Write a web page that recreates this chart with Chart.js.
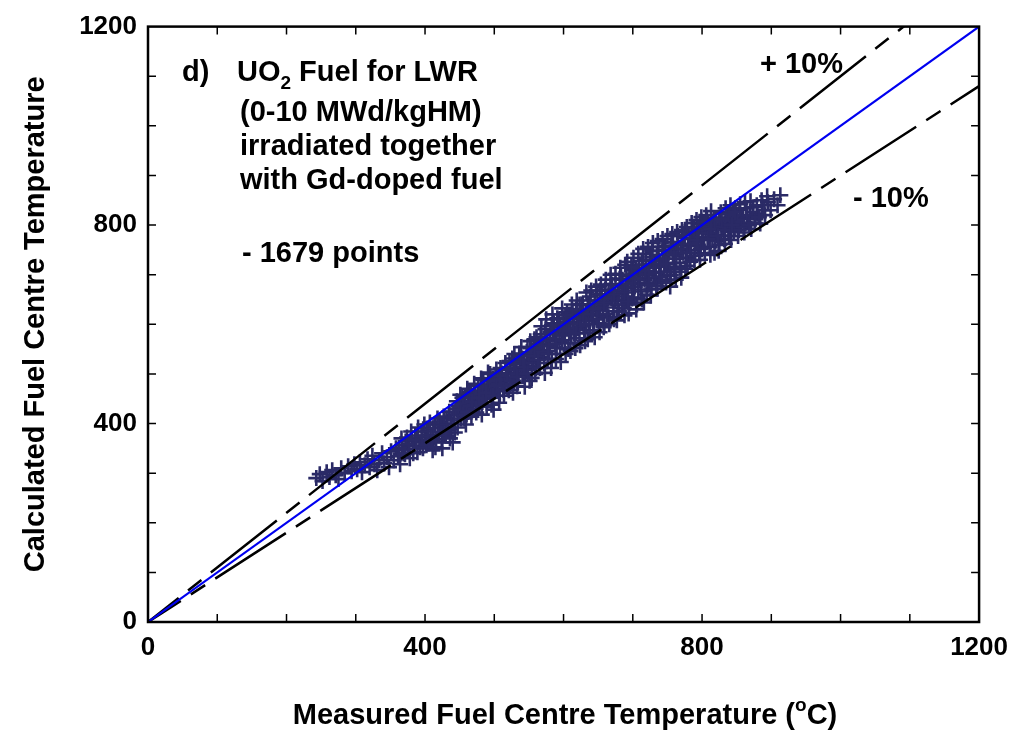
<!DOCTYPE html>
<html>
<head>
<meta charset="utf-8">
<script src="https://cdn.jsdelivr.net/npm/chart.js@4.4.1/dist/chart.umd.min.js"></script>
<style>
  html, body { margin: 0; padding: 0; background: #fff; }
  #wrap { width: 1018px; height: 734px; }
</style>
</head>
<body>
<div id="wrap"><canvas id="fuelChart" width="1018" height="734"></canvas></div>
<script>
// axis ranges and labelled ticks
const axisMin = 0;
const axisMax = 1200;
const minorStep = 100;
const tickLabels = [0, 400, 800, 1200];

// reference lines: calculated = factor * measured
const perfectFactor = 1.0;
const upperFactor = 1.1;
const lowerFactor = 0.9;

// measured vs calculated fuel centre temperature (deg C), UO2, 0-10 MWd/kgHM
const fuelPoints = [
  [243,290],[248,298],[252,284],[258,302],[262,292],[266,306],[271,296],[275,288],[279,310],[284,300],[289,314],[294,304],
  [298,318],[302,308],[306,322],[309,302],[313,316],[317,328],[320,312],[324,335],[327,318],[331,306],[334,326],[338,340],
  [341,320],[345,332],[348,312],[351,344],[355,326],[358,350],[361,334],[364,318],
  [367,356],[369,340],[372,364],[375,348],[378,330],[381,370],[384,354],[386,376],[389,342],[392,362],[395,384],[397,350],
  [400,372],[403,390],[405,360],[408,378],[411,346],[414,398],[416,368],[419,384],[421,404],[424,362],[426,392],[428,376],
  [431,410],[433,386],[436,370],[438,400],[441,418],[443,382],
  [446,445],[448,419],[451,458],[453,432],[456,415],[458,453],[461,470],[463,438],[466,463],[468,427],[471,480],[473,450],
  [476,466],[478,439],[481,491],[483,460],[486,478],[488,449],[491,503],[493,471],[496,438],[498,490],[501,465],[503,509],
  [506,482],[508,456],[511,501],[513,475],[516,522],[518,490],[521,467],[523,513],[526,531],[528,486],[531,502],[533,475],
  [536,541],[538,520],[541,496],[543,529],[546,511],[548,554],[551,486],[553,537],[556,521],
  [558,570],[560,512],[562,552],[565,534],[567,580],[569,558],[572,522],[574,590],[576,566],[579,546],[581,584],[583,530],
  [586,602],[588,570],[590,552],[593,596],[595,540],[597,578],[600,612],[602,562],[604,592],[607,550],[609,620],[611,580],
  [614,604],[616,562],[618,630],[621,592],[623,572],[625,614],[628,640],[630,588],[632,624],[635,570],[637,606],[639,648],
  [642,618],[644,588],[646,636],[649,660],[651,602],[653,628],[656,646],[658,594],[660,670],[663,634],[665,614],[667,656],
  [670,680],[672,626],[674,646],[677,608],[679,668],[681,692],[684,640],
  [686,656],[688,618],[691,698],[693,674],[695,642],[698,682],[700,710],[702,654],[705,630],[707,692],[709,720],[712,666],
  [714,704],[716,644],[719,730],[721,684],[723,714],[726,658],[728,736],[730,694],[733,720],[735,672],[737,748],[740,706],
  [742,686],[744,732],[747,758],[749,698],[751,724],[754,676],[756,765],[758,739],[761,711],[763,751],[765,778],[768,724],
  [770,694],[772,760],[775,786],[777,734],[779,718],[782,773],[784,749],[786,795],[789,729],[791,765],[793,783],[796,743],
  [798,802],[800,770],[803,754],[805,790],[807,812],[810,776],[812,740],
  [814,785],[817,808],[819,768],[821,794],[824,748],[826,815],[828,779],[831,800],[833,762],[835,822],[838,787],[840,806],
  [842,770],[845,827],[847,793],[849,812],[852,778],[854,831],[856,800],[859,817],[861,785],[864,834],[866,805],[869,818],
  [871,792],[874,836],[877,812],[880,823],[884,803],[887,840],[891,820],[895,846],[899,830],[904,852],[909,840],[913,860],
  [362,346],[366,370],[371,338],[374,372],[377,358],[380,384],[383,340],[387,366],[390,392],[393,352],[396,374],[399,398],
  [402,356],[404,384],[407,402],[410,364],[412,390],[415,352],[418,410],[420,376],[423,396],[425,350],[427,414],[430,380],
  [432,398],[435,424],[437,388],[440,362],[442,406],[444,430],
  [447,392],[449,436],[452,410],[454,452],[457,428],[459,398],[462,446],[464,462],[467,414],[469,440],[472,458],[474,422],
  [477,476],[479,444],[482,418],[484,488],[487,456],[489,434],[492,478],[494,500],[497,452],[499,428],[502,494],[504,470],
  [507,442],[509,512],[512,486],[514,456],[517,500],[519,470],[522,526],[524,492],[527,462],[529,540],[532,508],[534,482],
  [537,526],[539,554],[542,500],[544,474],[547,544],[549,516],[552,566],[554,492],[557,548],
  [559,500],[561,574],[563,540],[566,512],[568,596],[570,548],[573,502],[575,610],[577,530],[580,566],[582,512],[584,620],
  [587,586],[589,530],[591,612],[594,566],[596,524],[598,632],[601,590],[603,540],[605,624],[608,600],[610,546],[612,640],
  [615,582],[617,552],[619,648],[622,610],[624,558],[626,640],[629,596],[631,566],[633,664],[636,628],[638,582],[640,668],
  [643,600],[645,574],[647,676],[650,640],[652,584],[654,680],[657,616],[659,598],[661,690],[664,652],[666,600],[668,700],
  [671,662],[673,610],[675,702],[678,650],[680,626],[682,714],[685,668],[687,632],[689,720],
  [690,648],[692,726],[694,622],[697,700],[699,652],[701,734],[703,676],[706,640],[708,742],[710,700],[713,650],[715,752],
  [717,690],[720,660],[722,756],[724,700],[727,670],[729,764],[731,716],[734,678],[736,768],[738,728],[741,690],[743,772],
  [745,716],[748,684],[750,778],[752,744],[755,700],[757,782],[759,716],[762,690],[764,786],[766,752],[769,706],[771,790],
  [773,744],[776,712],[778,796],[780,760],[783,726],[785,804],[787,772],[790,738],[792,810],[794,760],[797,730],[799,816],
  [801,786],[804,742],[806,820],[808,796],[811,756],[813,828],[815,774],
  [818,744],[820,814],[822,780],[825,760],[827,826],[829,796],[832,772],[834,834],[836,808],[839,778],[841,840],[843,816],
  [846,786],[848,834],[850,806],[853,790],[855,842],[857,812],[860,796],[862,846],[865,820],[868,800],[870,848],[873,826],
  [876,804],[879,840],[882,816],[886,850],[890,830],[894,858],
  [452,428],[455,440],[460,418],[465,436],[470,452],[475,440],[480,460],[485,450],[490,470],[495,462],[500,480],[505,466],
  [510,488],[515,478],[520,500],[525,486],[530,512],[535,500],[540,524],[545,508],[550,536],[555,522],[560,548],[565,560],
  [570,544],[575,572],[580,556],[585,584],[590,570],[595,594],[600,578],[605,604],[610,592],[615,614],[620,600],[625,624],
  [630,610],[635,640],[640,620],[645,648],[650,632],[655,660],[660,640],[665,668],[670,652],[675,680],[680,662],[685,690],
  [690,676],[695,700],[700,684],[705,712],[710,690],[715,720],[720,702],[725,730],[730,714],[735,740],[740,722],[745,750],
  [750,732],[755,758],[760,740],[765,766],[770,752],[775,774],[780,758],[785,782],[790,766],[795,790],[800,776],[805,796],
  [810,784],[815,802],[820,790],[825,808],[830,796],[835,814],[840,802],[845,820],[850,810],
  [457,410],[462,424],[468,444],[473,430],[478,452],[483,474],[488,462],[493,486],[498,456],[503,476],[508,496],[513,468],
  [518,508],[523,476],[528,520],[533,494],[538,536],[543,514],[548,500],[553,552],[558,536],[563,528],[568,566],[573,580],
  [578,540],[583,598],[588,560],[593,610],[598,568],[603,618],[608,586],[613,628],[618,582],[623,640],[628,620],[633,600],
  [638,656],[643,630],[648,610],[653,668],[658,644],[663,620],[668,680],[673,660],[678,640],[683,700],[688,664],[693,646],
  [698,716],[703,694],[708,670],[713,728],[718,708],[723,680],[728,748],[733,704],[738,696],[743,756],[748,722],[753,706],
  [758,766],[763,732],[768,714],[773,780],[778,744],[783,762],[788,794],[793,770],[798,752],[803,806],[808,772],[813,792],
  [818,810],[823,778],[828,812],[833,790],[838,822],[843,800],[848,826]
];

function refLine(factor) {
  return [{ x: axisMin, y: axisMin * factor }, { x: axisMax, y: axisMax * factor }];
}

const FONT = 'Arial, "Liberation Sans", sans-serif';
const bold = (size) => ({ family: FONT, size: size, weight: 'bold' });

// frame, inward minor ticks, axis titles and in-plot notes
const decorPlugin = {
  id: 'decor',
  afterDraw(chart) {
    const ctx = chart.ctx;
    const a = chart.chartArea;
    const xs = chart.scales.x, ys = chart.scales.y;
    ctx.save();
    ctx.strokeStyle = '#000';
    ctx.lineWidth = 1.5;
    for (let v = axisMin + minorStep; v < axisMax; v += minorStep) {
      const px = xs.getPixelForValue(v);
      const py = ys.getPixelForValue(v);
      ctx.beginPath();
      ctx.moveTo(px, a.bottom); ctx.lineTo(px, a.bottom - 8);
      ctx.moveTo(px, a.top); ctx.lineTo(px, a.top + 8);
      ctx.moveTo(a.left, py); ctx.lineTo(a.left + 8, py);
      ctx.moveTo(a.right, py); ctx.lineTo(a.right - 8, py);
      ctx.stroke();
    }
    ctx.lineWidth = 2.5;
    ctx.strokeRect(a.left, a.top, a.right - a.left, a.bottom - a.top);

    ctx.fillStyle = '#000';
    ctx.textBaseline = 'alphabetic';

    // y title
    ctx.save();
    ctx.translate(44, (a.top + a.bottom) / 2);
    ctx.rotate(-Math.PI / 2);
    ctx.textAlign = 'center';
    ctx.font = 'bold 29px ' + FONT;
    ctx.fillText('Calculated Fuel Centre Temperature', 0, 0);
    ctx.restore();

    // x title with superscript degree
    const p1 = 'Measured Fuel Centre Temperature (';
    const p3 = 'C)';
    ctx.font = 'bold 29px ' + FONT;
    const w1 = ctx.measureText(p1).width;
    const w3 = ctx.measureText(p3).width;
    ctx.font = 'bold 19px ' + FONT;
    const w2 = ctx.measureText('o').width;
    let tx = 565 - (w1 + w2 + w3) / 2;
    const ty = 724;
    ctx.textAlign = 'left';
    ctx.font = 'bold 29px ' + FONT;
    ctx.fillText(p1, tx, ty);
    tx += w1;
    ctx.font = 'bold 19px ' + FONT;
    ctx.fillText('o', tx, ty - 13);
    tx += w2;
    ctx.font = 'bold 29px ' + FONT;
    ctx.fillText(p3, tx, ty);

    // notes
    ctx.font = 'bold 29px ' + FONT;
    ctx.fillText('d)', 182, 81);
    let nx = 237;
    ctx.fillText('UO', nx, 81);
    nx += ctx.measureText('UO').width;
    ctx.font = 'bold 19px ' + FONT;
    ctx.fillText('2', nx, 89);
    nx += ctx.measureText('2').width;
    ctx.font = 'bold 29px ' + FONT;
    ctx.fillText(' Fuel for LWR', nx, 81);
    ctx.fillText('(0-10 MWd/kgHM)', 240, 121);
    ctx.fillText('irradiated together', 240, 155);
    ctx.fillText('with Gd-doped fuel', 240, 189);
    ctx.fillText('- 1679 points', 242, 262);
    ctx.fillText('+ 10%', 760, 73);
    ctx.fillText('- 10%', 853, 207);
    ctx.restore();
  }
};

const dash = [84, 12, 17, 12];

new Chart(document.getElementById('fuelChart'), {
  type: 'scatter',
  data: {
    datasets: [
      {
        data: refLine(perfectFactor),
        showLine: true, pointRadius: 0,
        borderColor: '#0000f0', borderWidth: 2.2
      },
      {
        data: refLine(upperFactor),
        showLine: true, pointRadius: 0,
        borderColor: '#000', borderWidth: 2.5,
        borderDash: dash, borderDashOffset: 45
      },
      {
        data: refLine(lowerFactor),
        showLine: true, pointRadius: 0,
        borderColor: '#000', borderWidth: 2.5,
        borderDash: dash, borderDashOffset: 45
      },
      {
        data: fuelPoints.map(p => ({ x: p[0], y: p[1] })),
        pointStyle: 'cross', pointRadius: 8,
        borderColor: '#2a2a66', backgroundColor: '#2a2a66', borderWidth: 2.6
      }
    ]
  },
  options: {
    responsive: false,
    animation: false,
    layout: { padding: { top: 22, right: 36, left: 0, bottom: 0 } },
    plugins: { legend: { display: false }, tooltip: { enabled: false } },
    scales: {
      x: {
        type: 'linear', min: axisMin, max: axisMax,
        grid: { display: false, drawTicks: false },
        border: { display: false },
        ticks: {
          stepSize: minorStep, autoSkip: false, maxRotation: 0, padding: 10,
          color: '#000', font: bold(26),
          callback: v => tickLabels.includes(v) ? String(v) : ''
        },
        afterFit(scale) { scale.height = 112; }
      },
      y: {
        type: 'linear', min: axisMin, max: axisMax,
        grid: { display: false, drawTicks: false },
        border: { display: false },
        ticks: {
          stepSize: minorStep, autoSkip: false, padding: 11,
          color: '#000', font: bold(26),
          callback: v => tickLabels.includes(v) ? String(v) : ''
        },
        afterFit(scale) { scale.width = 148; }
      }
    }
  },
  plugins: [decorPlugin]
});
</script>
</body>
</html>
